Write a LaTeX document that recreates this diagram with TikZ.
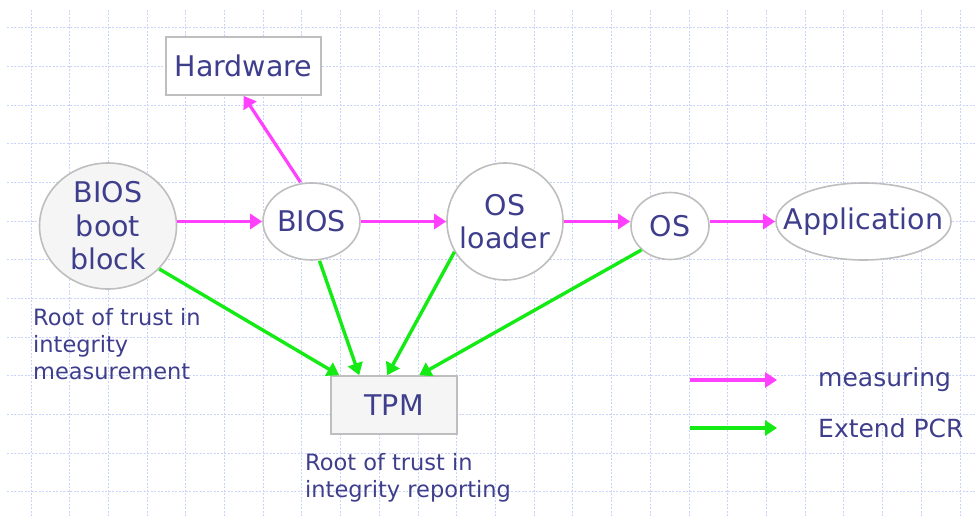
\documentclass[tikz,border=0pt]{standalone}
\usepackage{fontspec}
\setmainfont{DejaVu Sans}
\usetikzlibrary{shapes.geometric,arrows.meta}
\definecolor{inkblue}{RGB}{62,62,140}
\definecolor{gridblue}{RGB}{200,212,250}
\definecolor{edgegray}{RGB}{190,190,190}
\definecolor{boxfill}{RGB}{245,245,245}
\definecolor{measpink}{RGB}{255,64,255}
\definecolor{extgreen}{RGB}{20,235,20}
\tikzset{
  every node/.style={text=inkblue},
  bigtext/.style={font=\fontsize{28.5}{33.5}\selectfont, align=center, inner sep=0pt},
  smalltext/.style={font=\fontsize{22.5}{27}\selectfont, align=left, inner sep=0pt},
  legendtext/.style={font=\fontsize{25}{30}\selectfont, inner sep=0pt},
  stage/.style={ellipse, draw=edgegray, line width=1.6pt, fill=white, inner sep=0pt},
  block/.style={rectangle, draw=edgegray, line width=1.6pt, fill=white, inner sep=0pt},
  meas/.style={draw=measpink, line width=3.2pt, -{Triangle[length=12pt,width=15pt]}},
  ext/.style={draw=extgreen, line width=3.4pt, -{Triangle[length=12pt,width=15pt]}},
  gridline/.style={draw=gridblue, line width=1pt, dash pattern=on 2pt off 1.5pt}
}
\begin{document}
\begin{tikzpicture}[x=1pt,y=-1pt]
\useasboundingbox (0,0) rectangle (977,518);
% background grid
\foreach \k in {0,...,24} \draw[gridline] ({31+38.71*\k},10) -- ({31+38.71*\k},518);
\foreach \k in {0,...,12} \draw[gridline] (7,{27.7+38.67*\k}) -- (977,{27.7+38.67*\k});

% boot chain: outlines
\node[block, minimum width=155pt, minimum height=58pt] (hw) at (243.5,66) {};
\node[stage, fill=boxfill, minimum width=137pt, minimum height=126pt] (bbb) at (108,226) {};
\node[stage, minimum width=97pt, minimum height=77pt] (bios) at (311.5,221.5) {};
\node[stage, minimum width=116pt, minimum height=117pt] (osl) at (505,221.5) {};
\node[stage, minimum width=78pt, minimum height=67pt] (os) at (670,226) {};
\node[stage, minimum width=175pt, minimum height=77pt] (app) at (863.5,221.5) {};
\node[block, fill=boxfill, minimum width=126pt, minimum height=58pt] (tpm) at (394,405) {};

% boot chain: labels
\node[bigtext] (hwt) at (hw) {Hardware};
\node[bigtext] (bbbt) at (bbb) {BIOS\\boot\\block};
\node[bigtext] (biost) at (bios) {BIOS};
\node[bigtext] (oslt) at (osl) {OS\\loader};
\node[bigtext] (ost) at (os) {OS};
\node[bigtext] (appt) at (app) {Application};
\node[bigtext] (tpmt) at (tpm) {TPM};

% captions
\node[smalltext, anchor=north west] (rtm) at (33,308) {Root of trust in\\integrity\\measurement};
\node[smalltext, anchor=north west] (rtr) at (305,453) {Root of trust in\\integrity reporting};

% measuring arrows
\draw[meas] (bios.west -| bbb.east) -- (bios.west);
\draw[meas] (bios.east) -- (osl.west);
\draw[meas] (osl.east) -- (osl.east -| os.west);
\draw[meas] (os.east |- app.west) -- (app.west);
\draw[meas] ([xshift=-11pt]bios.north) -- (hw.south);

% extend PCR arrows
\draw[ext] (bbb.-40) -- ([xshift=9pt]tpm.north west);
\draw[ext] ([xshift=8pt]bios.south) -- ([xshift=29pt]tpm.north west);
\draw[ext] (osl.-149) -- ([xshift=57pt]tpm.north west);
\draw[ext] (os.-140) -- ([xshift=89pt]tpm.north west);

% legend
\coordinate (lm1) at (690,380);
\coordinate (lm2) at (777,380);
\coordinate (le1) at (690,428);
\coordinate (le2) at (777,428);
\draw[meas] (lm1) -- (lm2);
\draw[ext] (le1) -- (le2);
\node[legendtext, anchor=west] (lgm) at (818,380) {measuring};
\node[legendtext, anchor=west] (lge) at (818,428) {Extend PCR};
\end{tikzpicture}
\end{document}
